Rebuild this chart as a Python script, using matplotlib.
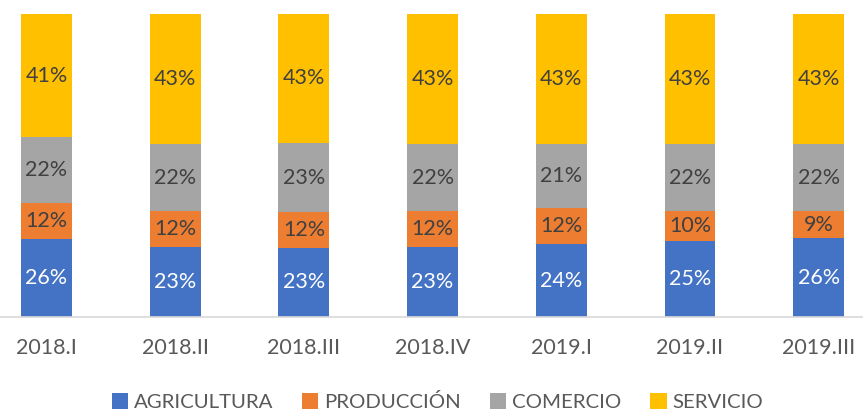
import numpy as np
import matplotlib.pyplot as plt

# data (percent shares per quarter)
periodos = ['2018.I', '2018.II', '2018.III', '2018.IV', '2019.I', '2019.II', '2019.III']
agricultura = [26, 23, 23, 23, 24, 25, 26]
produccion = [12, 12, 12, 12, 12, 10, 9]
comercio = [22, 22, 23, 22, 21, 22, 22]
servicio = [41, 43, 43, 43, 43, 43, 43]

series = [('AGRICULTURA', agricultura, '#4472C4', 'white'),
          ('PRODUCCIÓN', produccion, '#ED7D31', '#404040'),
          ('COMERCIO', comercio, '#A5A5A5', '#404040'),
          ('SERVICIO', servicio, '#FFC000', '#404040')]

plt.rcParams['font.family'] = ['Lato', 'DejaVu Sans']

fig = plt.figure(figsize=(8.63, 4.11), dpi=100)
ax = fig.add_axes([0, 94 / 411, 1, 303 / 411])

x = np.arange(len(periodos))
totals = np.sum([s[1] for s in series], axis=0)
bottom = np.zeros(len(periodos))
for name, vals, color, tcolor in series:
    share = np.array(vals) / totals
    ax.bar(x, share, 0.396, bottom=bottom, color=color, label=name)
    for xi, b, h, v in zip(x, bottom, share, vals):
        ax.text(xi, b + h / 2, f'{v}%', ha='center', va='center',
                fontsize=15.5, color=tcolor)
    bottom += share

ax.set_xlim(-0.361, 6.344)
ax.set_ylim(0, 1)
ax.set_yticks([])
ax.set_xticks(x)
ax.set_xticklabels(periodos, fontsize=15.5, color='#595959')
ax.tick_params(axis='x', length=0, pad=15)
for s in ['top', 'right', 'left']:
    ax.spines[s].set_visible(False)
ax.spines['bottom'].set_color('#D9D9D9')
ax.spines['bottom'].set_linewidth(1.2)

fig.legend(loc='lower center', bbox_to_anchor=(0.507, -0.045), ncol=4,
           frameon=False, fontsize=14.7, handlelength=0.8, handleheight=0.8,
           handletextpad=0.3, columnspacing=1.4, labelcolor='#595959')

fig.savefig('out.png', dpi=100)
